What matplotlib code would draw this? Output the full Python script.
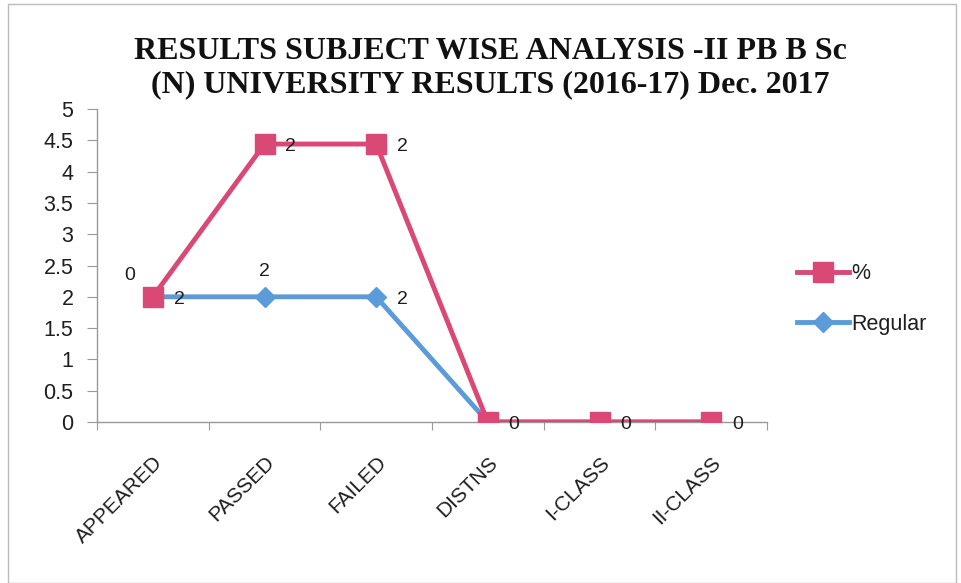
import matplotlib
matplotlib.use("Agg")
import matplotlib.pyplot as plt
import numpy as np
from matplotlib.lines import Line2D
from matplotlib.patches import Rectangle

categories = ["APPEARED", "PASSED", "FAILED", "DISTNS", "I-CLASS", "II-CLASS"]
regular = [2, 2, 2, 0, 0, 0]
percent = [0, 2.44, 2.44, 0, 0, 0]          # stacked on top of Regular
regular_labels = ["2", "2", "2", "", "", ""]
percent_labels = ["0", "2", "2", "0", "0", "0"]
yticks = [0, 0.5, 1, 1.5, 2, 2.5, 3, 3.5, 4, 4.5, 5]
title = "RESULTS SUBJECT WISE ANALYSIS -II PB B Sc\n(N) UNIVERSITY RESULTS (2016-17) Dec. 2017"

PINK = "#DA4876"
BLUE = "#5B9BDA"
TXT = "#1E1E1E"
FONT = "Liberation Sans"

fig = plt.figure(figsize=(9.61, 5.83), dpi=100)
W, H = 961, 583
ax = fig.add_axes([97 / W, 1 - 422 / H, (767 - 97) / W, (422 - 109) / H])

x = np.arange(len(categories)) + 0.5
stacked = np.array(regular) + np.array(percent)

ax.plot(x, regular, color=BLUE, lw=3.5, marker="D", ms=10, mfc=BLUE, mec=BLUE, zorder=3)
ax.plot(x, stacked, color=PINK, lw=3.5, marker="s", ms=14, mfc=PINK, mec=PINK, zorder=4)

# data labels (offsets in points)
reg_off = [(15, -2), (0, 18), (15, -2), (0, 0), (0, 0), (0, 0)]
pct_off = [(-17, 15), (15, -2), (15, -2), (15, -2), (15, -2), (15, -2)]
lab_font = dict(family=FONT, fontsize=14, color=TXT)
for xi, yi, t, o in zip(x, regular, regular_labels, reg_off):
    if t:
        ax.annotate(t, (xi, yi), xytext=o, textcoords="offset points",
                    ha="left" if o[0] > 0 else "center", va="center", **lab_font)
for xi, yi, t, o in zip(x, stacked, percent_labels, pct_off):
    if t:
        ax.annotate(t, (xi, yi), xytext=o, textcoords="offset points",
                    ha="left" if o[0] > 0 else "center", va="center", zorder=5, **lab_font)

ax.set_xlim(0, len(categories))
ax.set_ylim(0, 5)
ax.set_yticks(yticks)
ax.set_yticklabels([f"{v:g}" for v in yticks], fontsize=15.5, family=FONT, color=TXT)
ax.set_xticks(np.arange(len(categories) + 1))
ax.set_xticklabels([])
ax.set_xticks(x, minor=True)
ax.set_xticklabels(categories, minor=True, rotation=45, ha="right", rotation_mode="anchor",
                   fontsize=15, family=FONT, color=TXT)
ax.tick_params(axis="x", which="minor", length=0, pad=22)
ax.tick_params(axis="x", which="major", length=6, color="#999999", direction="out")
ax.tick_params(axis="y", length=7, color="#999999", direction="out", pad=10)
for s in ["top", "right"]:
    ax.spines[s].set_visible(False)
for s in ["left", "bottom"]:
    ax.spines[s].set_color("#999999")
    ax.spines[s].set_linewidth(1)
ax.patch.set_alpha(0)

fig.text(490 / W, 1 - 68 / H, title, ha="center", va="center", fontsize=23,
         family="Liberation Serif", fontweight="bold", color="#111111", linespacing=1.22)

handles = [Line2D([0], [0], color=PINK, lw=3.5, marker="s", ms=14),
           Line2D([0], [0], color=BLUE, lw=3.5, marker="D", ms=10)]
leg = fig.legend(handles, ["%", "Regular"], loc="center left", bbox_to_anchor=(778 / W, 1 - 299 / H),
                 frameon=False, handlelength=2.4, handletextpad=0.1, labelspacing=1.35,
                 prop=dict(family=FONT, size=15.5))
for t in leg.get_texts():
    t.set_color(TXT)

fig.patches.append(Rectangle((8 / W, 0.0), (956 - 8) / W, 1 - 4 / H, transform=fig.transFigure,
                             fill=False, ec="#BBBBBB", lw=1))

fig.savefig("out.png", dpi=100)
